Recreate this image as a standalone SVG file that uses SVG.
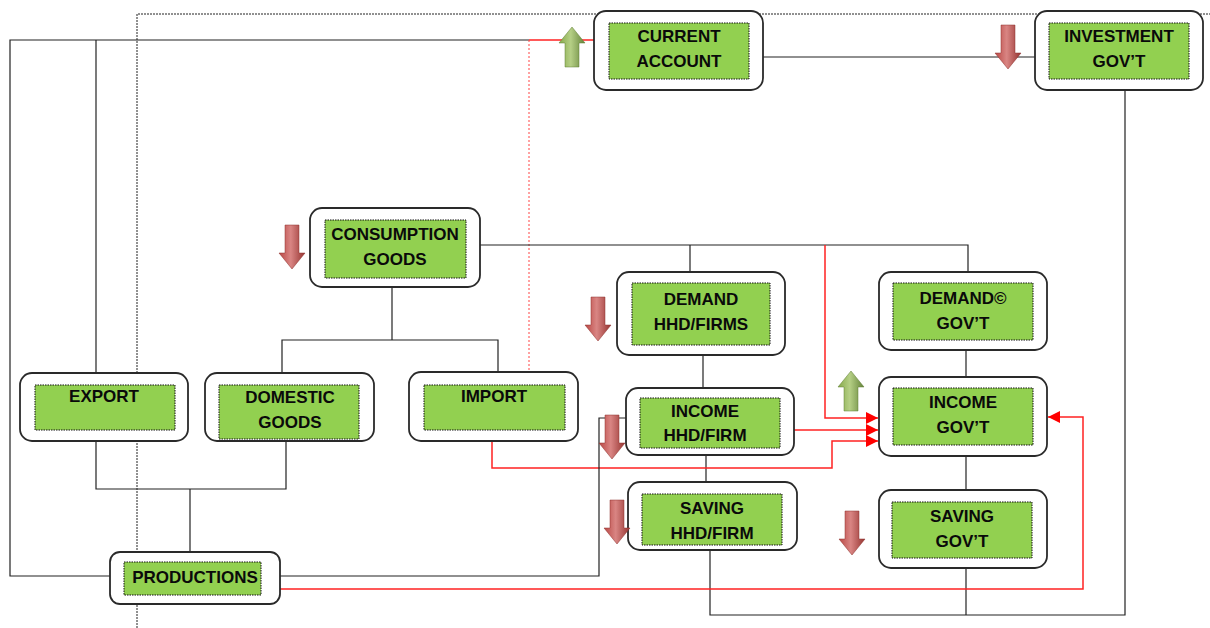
<svg xmlns="http://www.w3.org/2000/svg" width="1210" height="628" viewBox="0 0 1210 628">
<style>
.box{fill:#fff;stroke:#2a2a2a;stroke-width:1.8}
.in{fill:#92d050;stroke:#111;stroke-width:1;stroke-dasharray:1.5 1}
.t{font-family:"Liberation Sans",Arial,sans-serif;font-weight:bold;font-size:17px;fill:#0a0a0a;text-anchor:middle}
.k{fill:none;stroke:#222;stroke-width:1.2}
.r{fill:none;stroke:#f22;stroke-width:1.5}
</style>
<defs>
<marker id="ah" viewBox="0 0 10 10" refX="10" refY="5" markerWidth="13" markerHeight="12" markerUnits="userSpaceOnUse" orient="auto">
<path d="M0,0 L10,5 L0,10 Z" fill="#f00"/>
</marker>
<linearGradient id="gr" x1="0" y1="0" x2="1" y2="0">
<stop offset="0" stop-color="#b94744"/>
<stop offset="0.45" stop-color="#d98583"/>
<stop offset="1" stop-color="#953330"/>
</linearGradient>
<linearGradient id="gg" x1="0" y1="0" x2="1" y2="0">
<stop offset="0" stop-color="#86a94a"/>
<stop offset="0.45" stop-color="#b5cf85"/>
<stop offset="1" stop-color="#64833a"/>
</linearGradient>
<path id="down" d="M-7,0 H7 V28 H13 L0,44 L-13,28 H-7 Z" fill="url(#gr)" stroke="#8c302d" stroke-width="0.5"/>
<path id="up" d="M-7,40 V16 H-13 L0,0 L13,16 H7 V40 Z" fill="url(#gg)" stroke="#5f7d33" stroke-width="0.5"/>
</defs>
<rect width="1210" height="628" fill="#fff"/>

<g id="connectors">
<path d="M137,628 V14 H1210" fill="none" stroke="#222" stroke-width="1" stroke-dasharray="2 1"/>
<path class="k" d="M110,576 H10 V40 H529"/>
<path class="r" d="M529,40 H594"/>
<path class="k" d="M96,40 V373"/>
<path d="M529,40 V372" fill="none" stroke="#f44" stroke-width="1" stroke-dasharray="2 2"/>
<path class="k" d="M763,57 H1035"/>
<path class="k" d="M1125,90 V615 H710 V550"/>
<path class="k" d="M966,568 V615"/>
<path class="k" d="M480,245 H968 V272"/>
<path class="k" d="M690,245 V272"/>
<path class="r" d="M825,245 V418 H878" marker-end="url(#ah)"/>
<path class="k" d="M392,287 V340"/>
<path class="k" d="M282,372 V340 H498 V372"/>
<path class="k" d="M703,355 V388"/>
<path class="k" d="M966,350 V377"/>
<path class="k" d="M966,456 V490"/>
<path class="k" d="M706,455 V482"/>
<path class="r" d="M794,430 H878" marker-end="url(#ah)"/>
<path class="r" d="M492,441 V468 H832 V441 H878" marker-end="url(#ah)"/>
<path class="k" d="M280,576 H599 V418 H626"/>
<path class="r" d="M280,589 H1083 V417 H1048" marker-end="url(#ah)"/>
<path class="k" d="M96,441 V489 H286 V441"/>
<path class="k" d="M190,489 V552"/>
</g>

<g id="n-current-account">
<rect class="box" x="594" y="11" width="169" height="79" rx="12"/>
<rect class="in" x="609" y="23" width="140" height="56"/>
<text class="t" x="679" y="42">CURRENT</text>
<text class="t" x="679" y="67">ACCOUNT</text>
</g>
<g id="n-investment-gov">
<rect class="box" x="1035" y="11" width="168" height="79" rx="12"/>
<rect class="in" x="1049" y="23" width="140" height="56"/>
<text class="t" x="1119" y="42">INVESTMENT</text>
<text class="t" x="1119" y="67">GOV’T</text>
</g>
<g id="n-consumption-goods">
<rect class="box" x="310" y="208" width="170" height="79" rx="12"/>
<rect class="in" x="325" y="220" width="141" height="58"/>
<text class="t" x="395" y="240">CONSUMPTION</text>
<text class="t" x="395" y="265">GOODS</text>
</g>
<g id="n-demand-hhd">
<rect class="box" x="617" y="272" width="168" height="83" rx="12"/>
<rect class="in" x="632" y="283" width="138" height="62"/>
<text class="t" x="701" y="305">DEMAND</text>
<text class="t" x="701" y="330">HHD/FIRMS</text>
</g>
<g id="n-demand-gov">
<rect class="box" x="879" y="272" width="168" height="78" rx="12"/>
<rect class="in" x="893" y="283" width="140" height="57"/>
<text class="t" x="963" y="304">DEMAND©</text>
<text class="t" x="963" y="329">GOV’T</text>
</g>
<g id="n-income-gov">
<rect class="box" x="879" y="377" width="168" height="79" rx="12"/>
<rect class="in" x="893" y="388" width="140" height="57"/>
<text class="t" x="963" y="408">INCOME</text>
<text class="t" x="963" y="433">GOV’T</text>
</g>
<g id="n-saving-gov">
<rect class="box" x="879" y="490" width="168" height="78" rx="12"/>
<rect class="in" x="892" y="502" width="140" height="56"/>
<text class="t" x="962" y="522">SAVING</text>
<text class="t" x="962" y="547">GOV’T</text>
</g>
<g id="n-income-hhd">
<rect class="box" x="626" y="388" width="168" height="67" rx="12"/>
<rect class="in" x="640" y="398" width="140" height="50"/>
<text class="t" x="705" y="417">INCOME</text>
<text class="t" x="705" y="441">HHD/FIRM</text>
</g>
<g id="n-saving-hhd">
<rect class="box" x="628" y="482" width="169" height="68" rx="12"/>
<rect class="in" x="642" y="494" width="140" height="51"/>
<text class="t" x="712" y="514">SAVING</text>
<text class="t" x="712" y="539">HHD/FIRM</text>
</g>
<g id="n-export">
<rect class="box" x="20" y="373" width="168" height="68" rx="12"/>
<rect class="in" x="35" y="385" width="140" height="45"/>
<text class="t" x="104" y="402">EXPORT</text>
</g>
<g id="n-domestic-goods">
<rect class="box" x="205" y="373" width="169" height="68" rx="12"/>
<rect class="in" x="219" y="385" width="140" height="54"/>
<text class="t" x="290" y="403">DOMESTIC</text>
<text class="t" x="290" y="428">GOODS</text>
</g>
<g id="n-import">
<rect class="box" x="409" y="372" width="169" height="69" rx="12"/>
<rect class="in" x="424" y="385" width="141" height="45"/>
<text class="t" x="494" y="402">IMPORT</text>
</g>
<g id="n-productions">
<rect class="box" x="110" y="552" width="170" height="52" rx="10"/>
<rect class="in" x="124" y="562" width="137" height="33"/>
<text class="t" x="195" y="583">PRODUCTIONS</text>
</g>

<g id="indicators">
<use href="#up" x="572" y="27"/>
<use href="#down" x="1008" y="25"/>
<use href="#down" x="292" y="225"/>
<use href="#down" x="598" y="297"/>
<use href="#up" x="851" y="371"/>
<use href="#down" x="612" y="415"/>
<use href="#down" x="617" y="500"/>
<use href="#down" x="852" y="511"/>
</g>
</svg>
